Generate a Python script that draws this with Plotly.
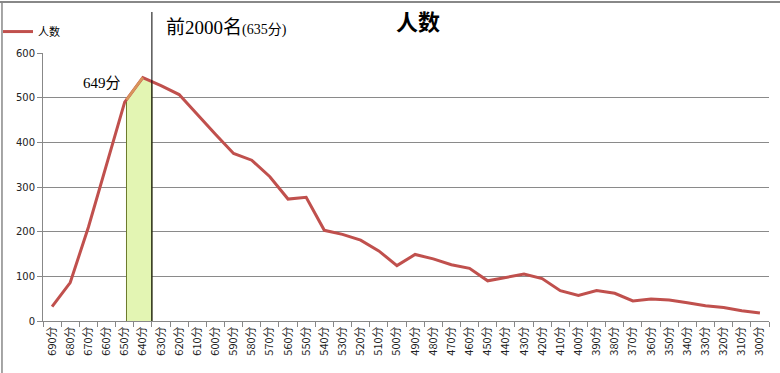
import numpy as np
import plotly.graph_objects as go

# ---- data ----
scores = list(range(690, 299, -10))
labels = [f"{s}分" for s in scores]
counts = [32, 86, 210, 350, 490, 545, 527, 507, 462, 418,
          375, 360, 323, 273, 277, 203, 194, 181, 157, 124,
          149, 139, 126, 118, 90, 97, 105, 95, 68, 57,
          68, 62, 45, 49, 47, 41, 34, 30, 23, 18]
cut_low = 649      # "649分"
cut_rank = 635     # 前2000名 (635分)
series_name = "人数"

idx = np.arange(len(scores))
def pos(score):
    return (scores[0] - score) / 10.0

x_lo, x_hi = pos(cut_low), pos(cut_rank)
y_lo = float(np.interp(x_lo, idx, counts))
y_hi = float(np.interp(x_hi, idx, counts))
inner = [i for i in idx if x_lo < i < x_hi]
poly_x = [x_lo, x_lo] + inner + [x_hi, x_hi]
poly_y = [0, y_lo] + [counts[i] for i in inner] + [y_hi, 0]

RED = "#C0504D"

fig = go.Figure()
fig.add_trace(go.Scatter(x=poly_x, y=poly_y, fill="toself", fillcolor="#E3F5B3",
                         line=dict(color="#6B7A2A", width=1), mode="lines",
                         showlegend=False, hoverinfo="skip"))
fig.add_trace(go.Scatter(x=idx, y=counts, mode="lines", name=series_name,
                         line=dict(color=RED, width=3)))
seg_x = [x_lo] + inner
seg_y = [y_lo] + [counts[i] for i in inner]
fig.add_trace(go.Scatter(x=seg_x, y=seg_y, mode="lines", showlegend=False,
                         line=dict(color="#D9955A", width=2.5), hoverinfo="skip"))

fig.add_shape(type="line", xref="x", yref="paper", x0=x_hi, x1=x_hi, y0=0, y1=1.153,
              line=dict(color="black", width=1))
# outer frame (top and left)
fig.add_shape(type="line", xref="paper", yref="paper", x0=-0.06, x1=1.02, y0=1.19, y1=1.19,
              line=dict(color="#888888", width=2))
fig.add_shape(type="line", xref="paper", yref="paper", x0=-0.0565, x1=-0.0565, y0=-0.2, y1=1.194,
              line=dict(color="#888888", width=1.5))

fig.add_annotation(xref="paper", yref="paper", x=0.166, y=1.097, xanchor="left", yanchor="middle",
                   showarrow=False,
                   text="前2000名<span style='font-size:14px'>(635分)</span>",
                   font=dict(family="Liberation Serif, Noto Sans CJK SC", size=19, color="black"))
fig.add_annotation(xref="paper", yref="paper", x=0.052, y=0.888, xanchor="left", yanchor="middle",
                   showarrow=False, text="649分",
                   font=dict(family="Liberation Serif, Noto Sans CJK SC", size=15, color="black"))

fig.update_layout(
    width=780, height=373,
    margin=dict(l=43, r=11, t=53, b=52, autoexpand=False),
    paper_bgcolor="white", plot_bgcolor="white",
    title=dict(text="<b>人数</b>", x=0.536, y=0.941, xanchor="center", yanchor="middle",
               font=dict(family="Noto Sans CJK SC", size=22, color="black")),
    legend=dict(x=-0.062, y=1.08, xanchor="left", yanchor="middle", bgcolor="rgba(0,0,0,0)",
                font=dict(family="Noto Sans CJK SC", size=11, color="black"), itemwidth=30),
    showlegend=True,
    font=dict(family="Noto Sans CJK SC", size=10, color="#222222"),
)
fig.update_xaxes(range=[-0.5, len(scores) - 0.5], tickmode="array", tickvals=list(idx),
                 ticktext=labels, tickangle=-90, ticks="", showgrid=False, automargin=False,
                 showline=True, linecolor="#888888", linewidth=1,
                 tickfont=dict(family="Noto Sans CJK SC", size=11, color="#222222"),
                 minor=dict(ticks="outside", tick0=-0.5, dtick=1, ticklen=5,
                            tickcolor="#888888", showgrid=False),
                 zeroline=False)
fig.update_yaxes(range=[0, 600], tickmode="linear", tick0=0, dtick=100, automargin=False,
                 showgrid=True, gridcolor="#8a8a8a", gridwidth=1,
                 showline=True, linecolor="#888888", linewidth=1,
                 ticks="outside", ticklen=5, tickcolor="#888888",
                 tickfont=dict(family="DejaVu Sans", size=10, color="#222222"),
                 zeroline=False)

fig.write_html("out.html", config={"displayModeBar": False},
               post_script="document.body.style.margin='0';")
